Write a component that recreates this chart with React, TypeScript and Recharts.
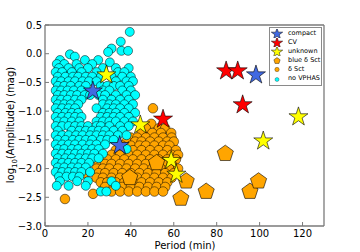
import { ScatterChart, Scatter, XAxis, YAxis } from "recharts";

const xTicks = [0, 20, 40, 60, 80, 100, 120];
const yTicks = [-3, -2.5, -2, -1.5, -1, -0.5, 0, 0.5];

// period (min), log10 amplitude (mag)
const compact: [number, number][] = [[22.3, -0.65], [34.8, -1.6], [98.3, -0.37]];
const cv: [number, number][] = [[84.4, -0.3], [89.8, -0.3], [92.1, -0.89], [55, -1.14]];
const unknown: [number, number][] = [
  [28.6, -0.37], [44.4, -1.24], [118.1, -1.1], [101.7, -1.52], [58.8, -1.86], [61.2, -2.1],
];
const blueDSct: [number, number][] = [
  [84, -1.74], [75.1, -2.4], [95.5, -2.4], [99.5, -2.22], [65.8, -2.22], [63.3, -2.52],
  [39.5, -2.16], [52, -1.9],
];

// rows of [log amp, periods]
const dSctRows: [number, number[]][] = [
  [-0.95, [50.3]],
  [-1.22, [49.5]],
  [-1.3, [47, 53, 56]],
  [-1.38, [45, 50, 54, 58.8]],
  [-1.46, [18.6, 40, 43, 47, 51, 55, 59]],
  [-1.53, [13, 38, 42, 45, 49, 53, 57, 60]],
  [-1.6, [36, 40, 44, 47, 51, 55, 58]],
  [-1.68, [33, 37, 41, 45, 49, 53, 57, 61]],
  [-1.76, [31, 35, 39, 43, 47, 51, 55, 59, 62]],
  [-1.84, [29, 33, 37, 41, 45, 49, 53, 57, 61]],
  [-1.92, [25, 28, 31, 35, 39, 43, 47, 51, 55, 59]],
  [-2.0, [24, 27, 30, 34, 38, 42, 46, 50, 54, 58, 62]],
  [-2.08, [18.6, 25, 28, 32, 36, 40, 44, 48, 52, 56, 60]],
  [-2.16, [24, 27, 31, 35, 39, 43, 47, 51, 55, 59]],
  [-2.24, [26, 29, 33, 37, 41, 45, 49, 53, 57]],
  [-2.32, [28, 32, 36, 40, 44, 48, 52, 56]],
  [-2.4, [31, 35, 39, 43, 47, 51, 55]],
  [-2.44, [22.4]],
  [-2.53, [9.3]],
];

const noVphasRows: [number, number[]][] = [
  [0.38, [39.5]],
  [0.21, [35.3]],
  [0.09, [31]],
  [0.05, [35.6, 38.7]],
  [0.03, [29.4]],
  [-0.01, [11.6]],
  [-0.05, [13.9]],
  [-0.11, [7, 18.6, 24.8]],
  [-0.15, [30.2]],
  [-0.18, [14.7, 5.5, 9, 22]],
  [-0.25, [6.5, 11, 16, 20, 27, 33, 39]],
  [-0.32, [5, 8, 12.5, 17, 24, 34, 37]],
  [-0.4, [6, 9.5, 13, 15.5, 19, 22, 26, 31, 36, 40]],
  [-0.48, [5, 7.5, 11, 14, 17.5, 20.5, 24, 33, 38, 41]],
  [-0.56, [6, 9, 12, 16, 19, 26, 29, 32, 35, 39]],
  [-0.64, [5, 7.5, 10.5, 13.5, 17, 27, 30, 36, 40]],
  [-0.72, [6, 9, 12, 15, 18.5, 21, 25, 28, 33, 38, 42]],
  [-0.8, [5, 7.5, 10.5, 14, 17, 27, 31, 35, 39]],
  [-0.88, [6, 9, 12, 15.5, 27, 30, 33, 37, 41]],
  [-0.95, [5, 8, 11, 14, 24, 29, 32, 35, 39]],
  [-1.03, [6, 9.5, 12.5, 15.5, 27, 30, 33, 37, 42]],
  [-1.1, [5, 8, 11, 14, 17, 26, 29, 32, 35, 39]],
  [-1.18, [6, 9, 12.5, 16, 24, 27, 30, 33, 37, 41]],
  [-1.26, [5, 8, 11, 14, 17, 20, 24, 26, 30, 35, 39]],
  [-1.34, [6, 12.5, 16, 19, 22, 25, 28, 32, 36]],
  [-1.42, [5, 8, 11, 14.5, 17.5, 21, 24, 27, 30, 34, 38]],
  [-1.5, [6, 9.5, 13, 16, 19, 22, 26, 29, 32]],
  [-1.58, [5, 8, 11, 14, 17.5, 21, 24, 28]],
  [-1.66, [6, 9, 12.5, 15.5, 19, 22, 25, 38]],
  [-1.74, [5, 8, 11, 14, 17, 20, 23, 27]],
  [-1.82, [6, 9.5, 12.5, 16, 19, 22, 25]],
  [-1.9, [5, 8, 11, 14, 17, 20.5]],
  [-1.98, [6, 9, 12.5, 15.5, 19]],
  [-2.06, [5, 8, 11, 14, 17, 21]],
  [-2.14, [6.5, 10, 13, 16]],
  [-2.22, [7, 15, 20, 31]],
  [-2.3, [5.5, 11, 19, 33]],
  [-2.4, [26, 28.6]],
];

const toPts = (p: [number, number][]) => p.map(([x, y]) => ({ x, y }));
const rowsToPts = (rows: [number, number[]][]) =>
  rows.flatMap(([y, xs]) => xs.map((x) => ({ x, y })));

const FONT = "DejaVu Sans, sans-serif";
const AXIS = "#7a7a7a";

function starPath(cx: number, cy: number, R: number) {
  const r = R * 0.382;
  const pts: string[] = [];
  for (let i = 0; i < 10; i++) {
    const a = -Math.PI / 2 + (i * Math.PI) / 5;
    const rad = i % 2 === 0 ? R : r;
    pts.push(`${cx + rad * Math.cos(a)},${cy + rad * Math.sin(a)}`);
  }
  return "M" + pts.join("L") + "Z";
}

function pentPath(cx: number, cy: number, R: number) {
  const pts: string[] = [];
  for (let i = 0; i < 5; i++) {
    const a = -Math.PI / 2 + (i * 2 * Math.PI) / 5;
    pts.push(`${cx + R * Math.cos(a)},${cy + R * Math.sin(a)}`);
  }
  return "M" + pts.join("L") + "Z";
}

const star = (fill: string, R = 10) => (p: any) =>
  <path d={starPath(p.cx, p.cy, R)} fill={fill} stroke="#000" strokeWidth={0.6} />;
const pent = (fill: string, R = 8.5) => (p: any) =>
  <path d={pentPath(p.cx, p.cy, R)} fill={fill} stroke="#000" strokeWidth={0.6} />;
const dot = (fill: string, r: number) => (p: any) =>
  <circle cx={p.cx} cy={p.cy} r={r} fill={fill} stroke="#000" strokeWidth={0.5} />;

const fmt = (v: number) => (v === 0 ? "0.0" : v.toFixed(1).replace("-", "\u2212"));

function BottomTick({ x, y, payload }: any) {
  return (
    <g>
      <line x1={x} y1={y} x2={x} y2={y - 4} stroke={AXIS} />
      <text x={x} y={y + 10.5} textAnchor="middle" fontSize={10} fontFamily={FONT} fill="#000">
        {payload.value}
      </text>
    </g>
  );
}
function TopTick({ x, y }: any) {
  return <line x1={x} y1={y} x2={x} y2={y + 4} stroke={AXIS} />;
}
function LeftTick({ x, y, payload }: any) {
  return (
    <g>
      <line x1={x} y1={y} x2={x + 4} y2={y} stroke={AXIS} />
      <text x={x - 3} y={y + 3.5} textAnchor="end" fontSize={10} fontFamily={FONT} fill="#000">
        {fmt(payload.value)}
      </text>
    </g>
  );
}
function RightTick({ x, y }: any) {
  return <line x1={x} y1={y} x2={x - 4} y2={y} stroke={AXIS} />;
}

const legendItems = [
  { label: "compact", kind: "star", color: "#4169e1" },
  { label: "CV", kind: "star", color: "#ff0000" },
  { label: "unknown", kind: "star", color: "#ffff00" },
  { label: "blue \u03b4 Sct", kind: "pent", color: "#ffa500" },
  { label: "\u03b4 Sct", kind: "dot", color: "#ffa500" },
  { label: "no VPHAS", kind: "dot", color: "#00ffff" },
];

function LegendBox() {
  return (
    <div
      style={{
        position: "absolute",
        left: 269,
        top: 27,
        width: 51,
        border: "1px solid #8a8a8a",
        background: "white",
        padding: "1px 0px",
        fontFamily: FONT,
        fontSize: 6.5,
        lineHeight: "9.1px",
      }}
    >
      {legendItems.map((it) => (
        <div key={it.label} style={{ display: "flex", alignItems: "center", height: 9.1 }}>
          <svg width={14} height={9} style={{ flexShrink: 0 }}>
            {it.kind === "star" && (
              <path d={starPath(7, 5, 6)} fill={it.color} stroke="#000" strokeWidth={0.5} />
            )}
            {it.kind === "pent" && (
              <path d={pentPath(7, 4.8, 3.3)} fill={it.color} stroke="#000" strokeWidth={0.4} />
            )}
            {it.kind === "dot" && (
              <circle cx={7} cy={4.5} r={it.label === "no VPHAS" ? 2 : 2.2} fill={it.color} stroke="#000" strokeWidth={0.3} />
            )}
          </svg>
          <span style={{ marginLeft: 4, whiteSpace: "nowrap" }}>{it.label}</span>
        </div>
      ))}
    </div>
  );
}

export default function App() {
  return (
    <div style={{ position: "absolute", left: 0, top: 0, width: 360, height: 252, background: "white" }}>
      <ScatterChart width={360} height={252} margin={{ top: 20, right: 31, bottom: 6, left: 5 }}>
        <XAxis
          type="number"
          dataKey="x"
          domain={[0, 130]}
          ticks={xTicks}
          height={20}
          tickSize={0}
          tickMargin={0}
          tick={<BottomTick />}
          axisLine={{ stroke: AXIS, strokeWidth: 1.3 }}
          allowDataOverflow
          label={{
            content: () => (
              <text x={185} y={248.5} textAnchor="middle" fontSize={10} fontFamily={FONT} fill="#000">
                Period (min)
              </text>
            ),
          }}
        />
        <XAxis
          xAxisId="top"
          orientation="top"
          type="number"
          dataKey="x"
          domain={[0, 130]}
          ticks={xTicks}
          height={5}
          tickSize={0}
          tickMargin={0}
          tick={<TopTick />}
          axisLine={{ stroke: AXIS, strokeWidth: 1.3 }}
        />
        <YAxis
          type="number"
          dataKey="y"
          domain={[-3, 0.5]}
          ticks={yTicks}
          width={40}
          tickSize={0}
          tickMargin={0}
          tick={<LeftTick />}
          axisLine={{ stroke: AXIS, strokeWidth: 1.3 }}
          allowDataOverflow
          label={{
            content: () => (
              <text
                x={14}
                y={125}
                transform="rotate(-90 14 125)"
                textAnchor="middle"
                fontSize={10}
                fontFamily={FONT}
                fill="#000"
              >
                log
                <tspan fontSize={7} dy={2.5}>10</tspan>
                <tspan dy={-2.5}>(Amplitude) (mag)</tspan>
              </text>
            ),
          }}
        />
        <YAxis
          yAxisId="right"
          orientation="right"
          type="number"
          dataKey="y"
          domain={[-3, 0.5]}
          ticks={yTicks}
          width={5}
          tickSize={0}
          tickMargin={0}
          tick={<RightTick />}
          axisLine={{ stroke: AXIS, strokeWidth: 1.3 }}
        />
        <Scatter name="δ Sct" data={rowsToPts(dSctRows)} shape={dot("#ffa500", 4.8)} isAnimationActive={false} />
        <Scatter name="no VPHAS" data={rowsToPts(noVphasRows)} shape={dot("#00ffff", 4.5)} isAnimationActive={false} />
        <Scatter name="blue δ Sct" data={toPts(blueDSct)} shape={pent("#ffa500")} isAnimationActive={false} />
        <Scatter name="unknown" data={toPts(unknown)} shape={star("#ffff00")} isAnimationActive={false} />
        <Scatter name="CV" data={toPts(cv)} shape={star("#ff0000")} isAnimationActive={false} />
        <Scatter name="compact" data={toPts(compact)} shape={star("#4169e1")} isAnimationActive={false} />
      </ScatterChart>
      <LegendBox />
    </div>
  );
}
